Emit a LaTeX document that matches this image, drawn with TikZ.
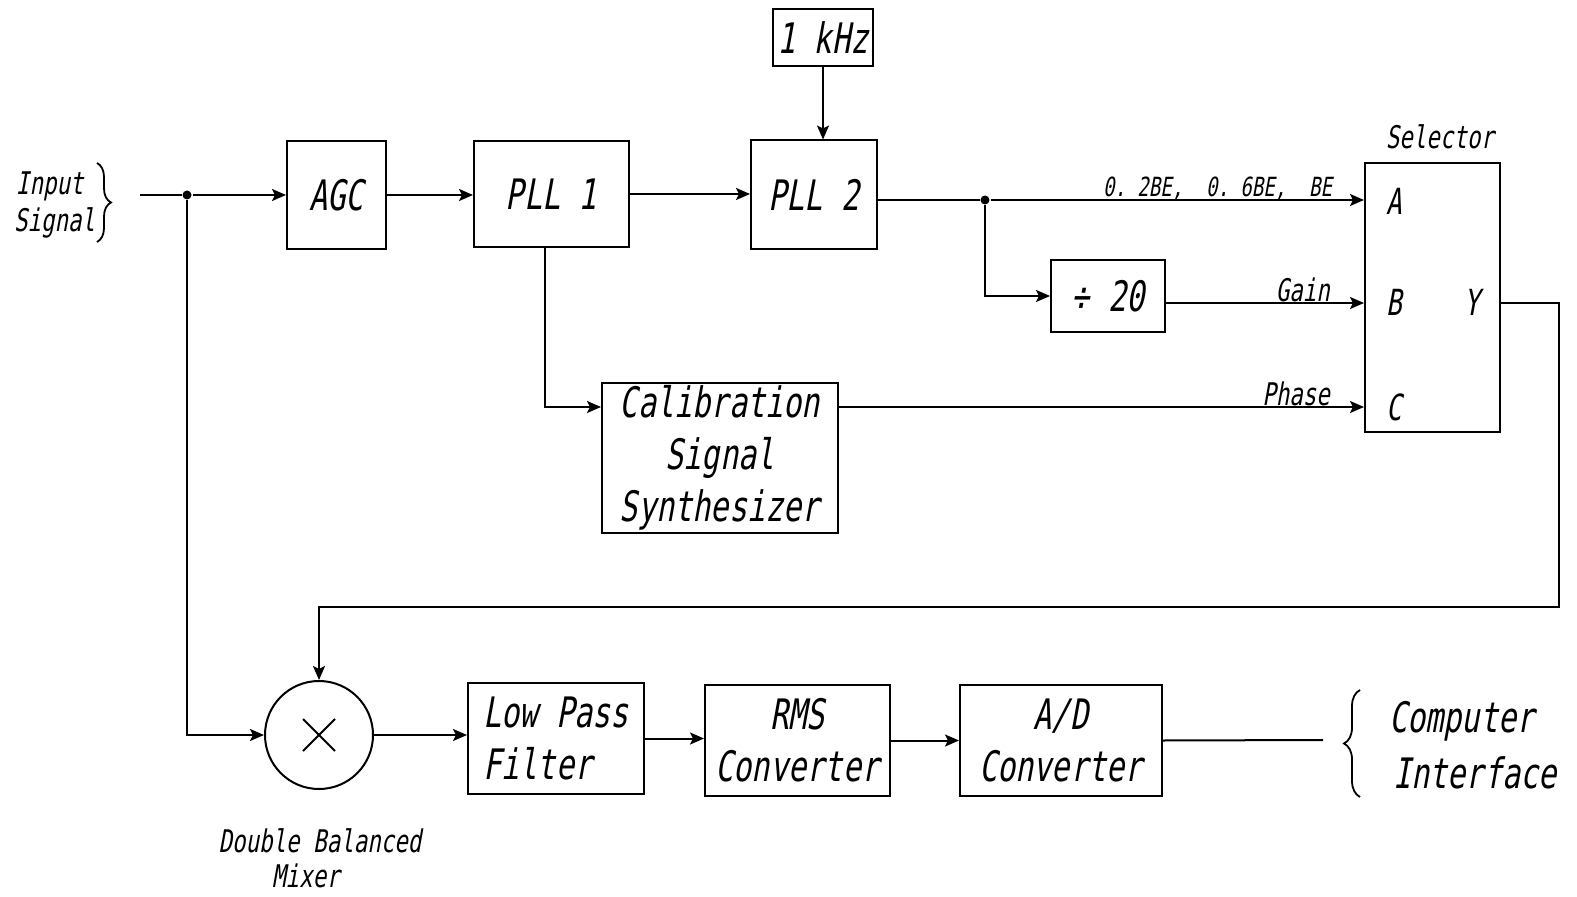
\documentclass[tikz,border=0pt]{standalone}
\usepackage{fontspec}
\newfontfamily\pf{DejaVu Sans Mono}[FakeStretch=0.72,FakeSlant=0.18]
\usetikzlibrary{arrows.meta,decorations.pathreplacing,calc}
\begin{document}
\begin{tikzpicture}[x=0.5pt,y=-0.5pt,line width=1pt,
  every node/.style={font=\pf\fontsize{21}{26}\selectfont,inner sep=0pt},
  box/.style={draw,rectangle,align=center},
  sm/.style={font=\pf\fontsize{15.6}{20}\selectfont},
  mid/.style={font=\pf\fontsize{18}{22}\selectfont},
  tiny/.style={font=\pf\fontsize{13.2}{16}\selectfont},
  arr/.style={-{Stealth[length=7pt,width=6pt,inset=1.5pt]}},
  dot/.style={circle,fill,minimum size=4.5pt,inner sep=0pt},
  brc/.style={decorate,decoration={brace,amplitude=#1}}]
\useasboundingbox (0,0) rectangle (1577,897);

% blocks
\node[box,minimum width=49.5pt,minimum height=54pt] (agc) at (336.5,195) {AGC};
\node[box,minimum width=77.5pt,minimum height=53pt] (pll1) at (551.5,194) {PLL 1};
\node[box,minimum width=63pt,minimum height=54.5pt] (pll2) at (814,195) {PLL 2};
\node[box,minimum width=50pt,minimum height=28.5pt] (khz) at (823,37.5) {1 kHz};
\node[box,minimum width=57pt,minimum height=36pt] (div) at (1108,296) {÷ 20};
\node[box,minimum width=67.5pt,minimum height=134.5pt] (sel) at (1432.5,297.5) {};
\node[box,minimum width=118pt,minimum height=75pt] (calib) at (720,458) {Calibration\\Signal\\Synthesizer};
\node[draw,circle,minimum size=54pt] (mix) at (319,735) {};
\node[box,align=left,minimum width=88pt,minimum height=55.5pt] (lpf) at (556,738.5) {Low Pass\\Filter};
\node[box,minimum width=92.5pt,minimum height=55.5pt] (rms) at (797.5,740.5) {RMS\\Converter};
\node[box,minimum width=101pt,minimum height=55.5pt] (ad) at (1061,740.5) {A/D\\Converter};

% mixer cross
\draw (mix.center) +(-16,-16) -- +(16,16);
\draw (mix.center) +(-16,16) -- +(16,-16);

% selector letters
\node[mid] (la) at (1394,201) {A};
\node[mid] (lb) at (1394,302) {B};
\node[mid] (lc) at (1394,407) {C};
\node[mid] (ly) at (1472,302) {Y};
\node[sm] (tsel) at (1440,137) {Selector};

% texts
\node[sm,anchor=west] (tin) at (15,186) {Input};
\node[sm,anchor=west] (tsig) at (13,223) {Signal};
\node[sm] (tdbm) at (320,841) {Double Balanced};
\node[sm] (tmix) at (306,876) {Mixer};
\node[anchor=west] (tcomp) at (1388,721) {Computer};
\node[anchor=west] (tint) at (1392,773) {Interface};

% braces
\draw[line width=0.9pt,brc=7pt] (97,163) -- (97,242);
\draw[line width=0.9pt,brc=8pt] (1360,797) -- (1360,690);

% coordinates
\coordinate (in0) at (140,195);
\node[dot] (j1) at (187,195) {};
\node[dot] (j2) at (985,200) {};
\coordinate (inA) at (1365,200);
\coordinate (inB) at (1365,303);
\coordinate (inC) at (1365,407);
\coordinate (r1) at (1559,303);
\coordinate (r2) at (1559,607);
\coordinate (ci) at (1323,740);

% connectors
\draw (in0) -- (j1);
\draw[arr] (j1) -- (agc.west);
\draw[arr] (j1) |- (mix.west);
\draw[arr] (agc.east) -- (agc.east -| pll1.west);
\draw[arr] (pll1.east) -- (pll1.east -| pll2.west);
\draw[arr] (khz.south) -- (khz.south |- pll2.north);
\draw (j2 -| pll2.east) -- (j2);
\draw[arr] (j2) -- (inA -| sel.west);
\draw[arr] (j2) |- (div.west);
\draw[arr] (inB -| div.east) -- (inB -| sel.west);
\draw[arr] ($(pll1.south)+(-7,0)$) |- (inC -| calib.west);
\draw[arr] (inC -| calib.east) -- (inC -| sel.west);
\draw[arr] (inB -| sel.east) -- (r1) -- (r2) -| (mix.north);
\draw[arr] (mix.east) -- (mix.east -| lpf.west);
\draw[arr] (lpf.east) -- (lpf.east -| rms.west);
\draw[arr] (rms.east) -- (rms.east -| ad.west);
\draw (ad.east) -- (ci);

% line labels
\node[tiny,anchor=base east] (lab1) at (1333,197) {0.~2BE,~~0.~6BE,~~BE};
\node[sm,anchor=base east] (lab2) at (1331,302) {Gain};
\node[sm,anchor=base east] (lab3) at (1331,406) {Phase};
\end{tikzpicture}
\end{document}
